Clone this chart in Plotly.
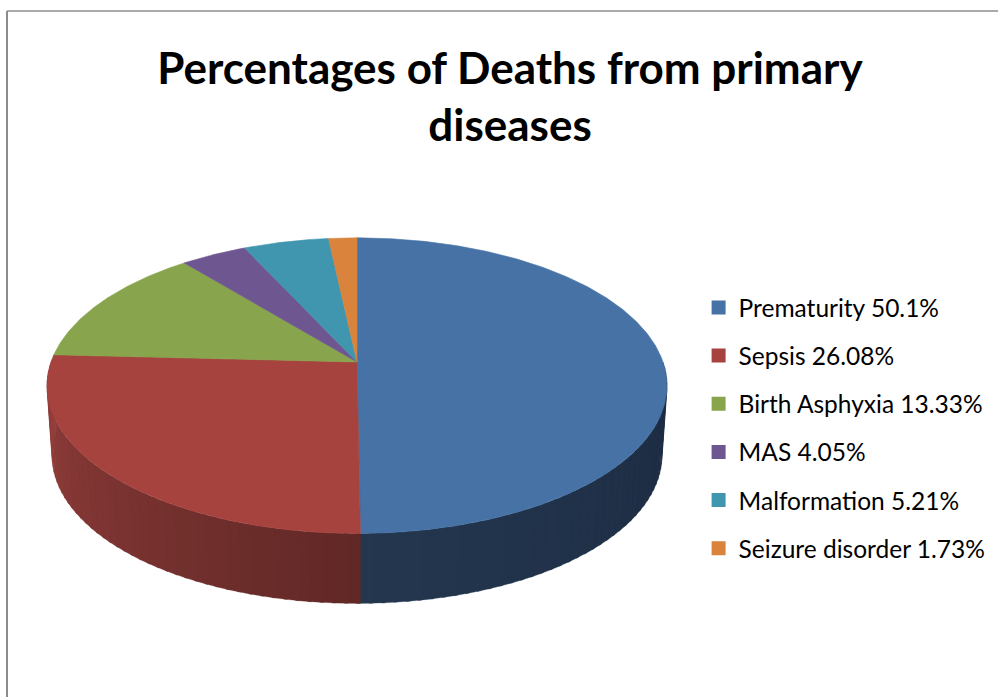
import numpy as np
import plotly.graph_objects as go

# ---------------- data ----------------
categories = ["Prematurity", "Sepsis", "Birth Asphyxia", "MAS", "Malformation", "Seizure disorder"]
percentages = [50.1, 26.08, 13.33, 4.05, 5.21, 1.73]
title_text = "Percentages of Deaths from primary<br>diseases"

# ---------------- style ----------------
top_colors = ["#4672A6", "#A6433F", "#88A44C", "#6E5690", "#4096AE", "#D9833C"]
side_dark = ["#24374F", "#612826", "#5E7232", "#4A3A62", "#2C6678", "#96592A"]
side_light = ["#1B2A41", "#953F3C", "#7A9244", "#624D80", "#3A869C", "#C27634"]

W, H = 998, 697
# perspective projection of a tilted disc
CX, K = 357.0, 0.16
TOP = dict(cy=362.0, a=306.0, b=144.0)
BOT = dict(cy=432.0, a=301.0, b=144.0)


def proj(theta, face):
    t = np.radians(theta)
    d = 1.0 + K * np.cos(t)
    return CX + face["a"] * np.sin(t) / d, face["cy"] - face["b"] * np.cos(t) / d


def mix(c1, c2, t):
    a = [int(c1[i:i + 2], 16) for i in (1, 3, 5)]
    b = [int(c2[i:i + 2], 16) for i in (1, 3, 5)]
    r = [round(a[k] + (b[k] - a[k]) * t) for k in range(3)]
    return "rgb(%d,%d,%d)" % tuple(r)


total = sum(percentages)
bounds = np.concatenate([[0.0], np.cumsum(percentages) / total * 360.0])

fig = go.Figure()

# side walls (front half only)
for i in range(len(categories)):
    a0, a1 = max(bounds[i], 90.0), min(bounds[i + 1], 270.0)
    if a1 <= a0:
        continue
    n = max(1, int(np.ceil((a1 - a0) / 2.0)))
    edges = np.linspace(a0, a1, n + 1)
    for k in range(n):
        s, e = edges[k], min(edges[k + 1] + 0.6, 271.0)
        th = np.linspace(s, e, 4)
        tx, ty = proj(th, TOP)
        bx, by = proj(th[::-1], BOT)
        xs = list(tx) + list(bx) + [tx[0]]
        ys = list(ty) + list(by) + [ty[0]]
        mid = 0.5 * (edges[k] + edges[k + 1])
        t = (180.0 - mid) / 90.0 if i == 0 else (mid - 180.0) / 90.0
        t = min(max(t, 0.0), 1.0)
        col = mix(side_dark[i], side_light[i], t)
        fig.add_trace(go.Scatter(x=xs, y=ys, mode="lines", fill="toself",
                                 fillcolor=col, line=dict(color=col, width=0.3),
                                 hoverinfo="skip", showlegend=False))

# top faces
for i in range(len(categories)):
    th = np.linspace(bounds[i], bounds[i + 1], max(3, int((bounds[i + 1] - bounds[i]) * 2)))
    tx, ty = proj(th, TOP)
    cx0, cy0 = CX, TOP["cy"]
    xs = [cx0] + list(tx) + [cx0]
    ys = [cy0] + list(ty) + [cy0]
    fig.add_trace(go.Scatter(x=xs, y=ys, mode="lines", fill="toself",
                             fillcolor=top_colors[i],
                             line=dict(color=top_colors[i], width=0.6),
                             hoverinfo="text",
                             text="%s %s%%" % (categories[i], percentages[i]),
                             showlegend=False))

# legend entries
for i, (c, p) in enumerate(zip(categories, percentages)):
    fig.add_trace(go.Scatter(x=[None], y=[None], mode="markers",
                             marker=dict(symbol="square", size=14, color=top_colors[i]),
                             name="%s %s%%" % (c, p), legendgroup="g%d" % i,
                             showlegend=True))

fig.update_layout(
    width=W, height=H,
    margin=dict(l=0, r=0, t=0, b=0),
    paper_bgcolor="white", plot_bgcolor="white",
    xaxis=dict(range=[0, W], visible=False, fixedrange=True),
    yaxis=dict(range=[H, 0], visible=False, fixedrange=True),
    title=dict(text="<b>" + title_text + "</b>", x=0.511, xanchor="center",
               y=1 - 84 / H, yanchor="top", yref="container",
               font=dict(family="Lato", size=44, color="black")),
    legend=dict(x=0.700, y=1 - 285 / H, xanchor="left", yanchor="top",
                font=dict(family="Lato", size=24.5, color="black"),
                tracegroupgap=13.3, bgcolor="rgba(0,0,0,0)", itemclick=False,
                itemdoubleclick=False),
    shapes=[
        dict(type="line", xref="paper", yref="paper", x0=7 / W, x1=7 / W, y0=0, y1=1 - 11 / H,
             line=dict(color="#8C8C8C", width=2)),
        dict(type="line", xref="paper", yref="paper", x0=7 / W, x1=1, y0=1 - 11 / H, y1=1 - 11 / H,
             line=dict(color="#8C8C8C", width=1.5)),
    ],
)

fig.write_html("out.html")
